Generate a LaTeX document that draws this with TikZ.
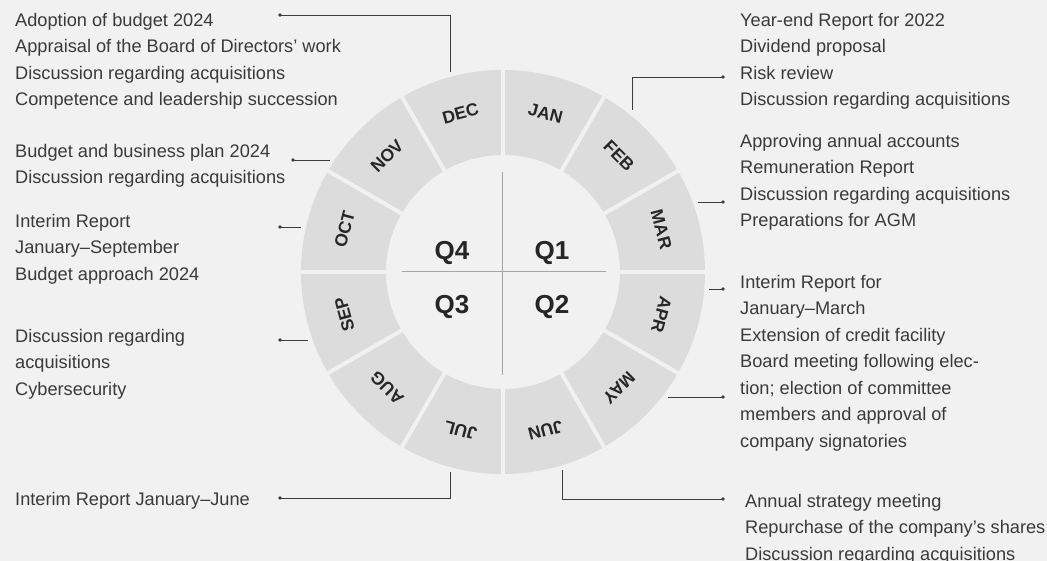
\documentclass[tikz,border=0pt]{standalone}
\usepackage{fontspec}
\setmainfont{Liberation Sans}
\usetikzlibrary{positioning}
\definecolor{wheelbg}{HTML}{F1F1F1}
\definecolor{wheelring}{HTML}{DCDCDD}
\definecolor{wheelcross}{HTML}{A5A5A5}
\definecolor{wheeltext}{HTML}{3A3A3A}
\definecolor{wheeldark}{HTML}{262626}
\definecolor{wheelline}{HTML}{3C3C3C}

\begin{document}
\begin{tikzpicture}[
    x=1pt, y=1pt,
    item/.style={anchor=north west, align=left, inner sep=0pt, text=wheeltext, font={\fontsize{18.2}{26.5}\selectfont}},
    month/.style={font={\bfseries\fontsize{17.5}{18}\selectfont}, text=wheeldark, inner sep=0pt},
    quarter/.style={font={\bfseries\fontsize{26}{28}\selectfont}, text=wheeldark, inner sep=0pt},
    link/.style={draw=wheelline, line width=0.9pt},
    dot/.style={fill=wheelline},
]

\useasboundingbox[fill=wheelbg] (-503,-289) rectangle (544,272);

% ring of months
\fill[wheelring, even odd rule] (0,0) circle[radius=202] (0,0) circle[radius=117];
\foreach \a in {0,30,...,330}
    \draw[wheelbg, line width=4pt] (\a:110) -- (\a:212);
\foreach \m [count=\i] in {JAN,FEB,MAR,APR,MAY,JUN,JUL,AUG,SEP,OCT,NOV,DEC} {
    \pgfmathsetmacro\ang{105-30*\i}
    \node[month, rotate=\ang-90] (m\i) at (\ang:164) {\m};
}

% quarters
\draw[wheelcross, line width=1pt] (0,100) -- (0,-103);
\draw[wheelcross, line width=1pt] (-101,0) -- (103,0);
\node[quarter] (q4) at (-51,19) {Q4};
\node[quarter] (q1) at (49,19) {Q1};
\node[quarter] (q3) at (-51,-35) {Q3};
\node[quarter] (q2) at (49,-35) {Q2};

% left column
\node[item] (dec-text) at (-488,259.3) {Adoption of budget 2024\\Appraisal of the Board of Directors’ work\\Discussion regarding acquisitions\\Competence and leadership succession};
\node[item] (nov-text) at (-488,128.3) {Budget and business plan 2024\\Discussion regarding acquisitions};
\node[item] (oct-text) at (-488,58.3) {Interim Report\\January–September\\Budget approach 2024};
\node[item] (sep-text) at (-488,-56.7) {Discussion regarding\\acquisitions\\Cybersecurity};
\node[item] (jul-text) at (-488,-219.7) {Interim Report January–June};

% right column
\node[item] (feb-text) at (237,259.3) {Year-end Report for 2022\\Dividend proposal\\Risk review\\Discussion regarding acquisitions};
\node[item] (mar-text) at (237,138.3) {Approving annual accounts\\Remuneration Report\\Discussion regarding acquisitions\\Preparations for AGM};
\node[item] (apr-text) at (237,-2.7) {Interim Report for\\January–March\\Extension of credit facility\\Board meeting following elec-\\tion; election of committee\\members and approval of\\company signatories};
\node[item] (jun-text) at (242,-221.7) {Annual strategy meeting\\Repurchase of the company’s shares\\Discussion regarding acquisitions};

% connectors
\coordinate (dec-dot) at (-223,257);  \coordinate (dec-end) at (-53,200);
\coordinate (nov-dot) at (-210,112);  \coordinate (nov-end) at (-173,112);
\coordinate (oct-dot) at (-223,45);   \coordinate (oct-end) at (-202,45);
\coordinate (sep-dot) at (-223,-68);  \coordinate (sep-end) at (-195,-68);
\coordinate (jul-dot) at (-223,-226); \coordinate (jul-end) at (-53,-200);
\coordinate (feb-dot) at (220,195);   \coordinate (feb-end) at (129,162);
\coordinate (mar-dot) at (220,70);    \coordinate (mar-end) at (195,70);
\coordinate (apr-dot) at (220,-17);   \coordinate (apr-end) at (206,-17);
\coordinate (may-dot) at (220,-125);  \coordinate (may-end) at (165,-125);
\coordinate (jun-dot) at (220,-227);  \coordinate (jun-end) at (59,-198);

\draw[link] (dec-end) |- (dec-dot);
\draw[link] (nov-end) -- (nov-dot);
\draw[link] (oct-end) -- (oct-dot);
\draw[link] (sep-end) -- (sep-dot);
\draw[link] (jul-end) |- (jul-dot);
\draw[link] (feb-end) |- (feb-dot);
\draw[link] (mar-end) -- (mar-dot);
\draw[link] (apr-end) -- (apr-dot);
\draw[link] (may-end) -- (may-dot);
\draw[link] (jun-end) |- (jun-dot);
\foreach \d in {dec,nov,oct,sep,jul,feb,mar,apr,may,jun}
    \fill[dot] (\d-dot) circle[radius=1.8];

\end{tikzpicture}
\end{document}
